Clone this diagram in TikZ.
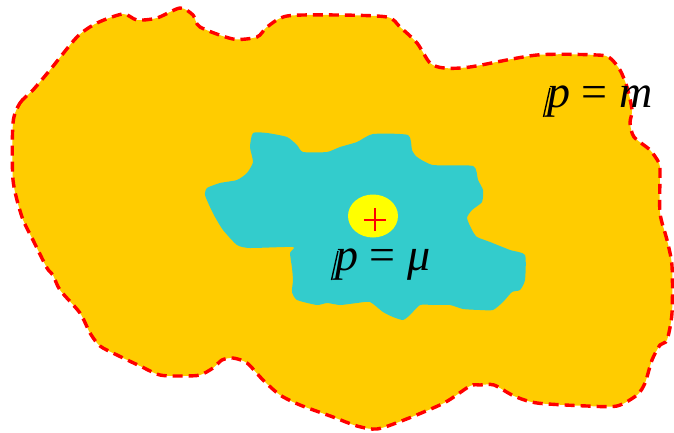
\documentclass[tikz,border=0pt]{standalone}
\usepackage{fontspec}
\usepackage{tikz}

\newfontfamily\lblfont{Liberation Serif}
\definecolor{blobgold}{HTML}{FFCC00}
\definecolor{blobcyan}{HTML}{33CCCC}
\definecolor{spotyellow}{HTML}{FFFF00}

\begin{document}
\begin{tikzpicture}[x=1pt, y=-1pt,
    rim/.style={red, line width=3.4pt, dash pattern=on 10pt off 6pt},
    lbl/.style={inner sep=0pt, anchor=base west, font=\lblfont\fontsize{46}{50}\selectfont},
    pstem/.style={black, line width=1.4pt}]
  \useasboundingbox (0,0) rectangle (674,433);

  % outer region
  \fill[blobgold] plot[smooth cycle, tension=0.45] coordinates {
      (13,123) (20,103) (33,90) (50,70) (77,37) (97,23) (123,14) (137,20)
      (157,18) (180,8) (193,15) (200,27) (233,39) (257,37) (267,27) (287,16)
      (337,15) (387,17) (400,27) (417,43) (430,63) (444,68) (470,67) (537,55)
      (597,55) (610,58) (620,70) (627,87) (632,110) (630,123) (634,137) (650,150)
      (659,163) (660,173) (660,213) (667,240) (672,266) (672,313) (667,340) (660,345)
      (652,360) (645,383) (637,395) (617,406) (587,406) (537,403) (514,396) (494,385)
      (480,385) (470,386) (444,403) (404,420) (377,429) (357,426) (333,417) (300,405)
      (280,395) (263,380) (247,363) (233,358) (222,360) (213,368) (200,375) (183,376)
      (160,375) (140,366) (117,355) (100,346) (90,333) (80,313) (60,290) (53,275)
      (47,268) (33,240) (22,217) (13,180)};
  \draw[rim] plot[smooth cycle, tension=0.45] coordinates {
      (13,123) (20,103) (33,90) (50,70) (77,37) (97,23) (123,14) (137,20)
      (157,18) (180,8) (193,15) (200,27) (233,39) (257,37) (267,27) (287,16)
      (337,15) (387,17) (400,27) (417,43) (430,63) (444,68) (470,67) (537,55)
      (597,55) (610,58) (620,70) (627,87) (632,110) (630,123) (634,137) (650,150)
      (659,163) (660,173) (660,213) (667,240) (672,266) (672,313) (667,340) (660,345)
      (652,360) (645,383) (637,395) (617,406) (587,406) (537,403) (514,396) (494,385)
      (480,385) (470,386) (444,403) (404,420) (377,429) (357,426) (333,417) (300,405)
      (280,395) (263,380) (247,363) (233,358) (222,360) (213,368) (200,375) (183,376)
      (160,375) (140,366) (117,355) (100,346) (90,333) (80,313) (60,290) (53,275)
      (47,268) (33,240) (22,217) (13,180)};

  % inner region
  \fill[blobcyan] plot[smooth cycle, tension=0.35] coordinates {
      (253,133) (267,133) (287,137) (297,145) (303,152) (327,152) (340,147) (357,142)
      (373,134) (408,135) (412,150) (417,157) (433,165) (473,166) (478,180) (483,190)
      (482,202) (472,210) (467,218) (472,230) (477,237) (490,242) (510,250) (525,255)
      (525,280) (520,290) (512,292) (503,302) (493,310) (480,310) (463,309) (450,305)
      (433,305) (420,305) (410,315) (403,320) (393,317) (383,312) (370,302) (357,303)
      (340,305) (327,303) (317,305) (297,300) (292,292) (293,280) (292,268) (290,253)
      (293,247) (250,248) (237,245) (223,230) (215,217) (210,207) (205,195) (207,188)
      (220,183) (237,180) (247,173) (253,162) (250,147)};

  % centre spot
  \fill[spotyellow] (373,216) ellipse [x radius=25, y radius=21.5];
  \node[inner sep=0pt, minimum size=22pt] (mark) at (375,219.5) {};
  \draw[red, line width=2pt] (mark.west) -- (mark.east) (mark.north) -- (mark.south);

  % labels, the p with a doubled stem
  \node[lbl] (outerlbl) at (547,107) {\textit{p} = \textit{m}};
  \node[lbl] (innerlbl) at (335,270) {\textit{p} = \textit{μ}};
  \foreach \lab in {outerlbl,innerlbl}
    \draw[pstem] ([shift={(-3.5,10)}]\lab.base west) -- ([shift={(3,-19)}]\lab.base west);
\end{tikzpicture}
\end{document}
